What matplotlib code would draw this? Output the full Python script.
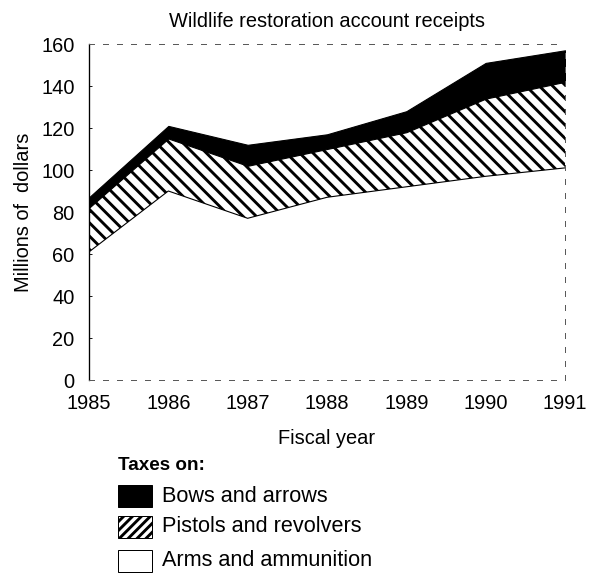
import matplotlib
matplotlib.use("Agg")
import matplotlib.pyplot as plt
from matplotlib.patches import Rectangle
import numpy as np

# Wildlife restoration account receipts, stacked by tax source (millions of dollars)
years = [1985, 1986, 1987, 1988, 1989, 1990, 1991]
arms_ammo = [61, 90, 77, 87, 92, 97, 101]
pistols = [21, 25, 25, 23, 26, 37, 41]
bows = [5, 6, 10, 7, 10, 17, 15]
yticks = [0, 20, 40, 60, 80, 100, 120, 140, 160]
legend_labels = ["Bows and arrows", "Pistols and revolvers", "Arms and ammunition"]

plt.rcParams['font.family'] = ['Liberation Sans', 'DejaVu Sans']
plt.rcParams['hatch.linewidth'] = 2.6

fig = plt.figure(figsize=(589 / 80, 575 / 80), dpi=80)
ax = fig.add_axes([89 / 589, 1 - 380 / 575, (565 - 89) / 589, (380 - 44) / 575])

x = np.array(years)
base = np.array(arms_ammo, dtype=float)
mid = base + np.array(pistols)
top = mid + np.array(bows)

ax.fill_between(x, 0, base, facecolor='white', edgecolor='none')
ax.fill_between(x, base, mid, facecolor='white', edgecolor='black', hatch='\\\\', linewidth=0)
ax.plot(x, base, color='black', lw=1.0)
ax.fill_between(x, mid, top, facecolor='black', edgecolor='black', linewidth=1.0)

fs = 18
ax.set_xlim(1985, 1991)
ax.set_ylim(0, 160)
ax.set_yticks(yticks)
ax.set_yticklabels([str(v) for v in yticks], fontsize=fs)
ax.set_xticks(years)
ax.set_xticklabels([str(y) for y in years], fontsize=fs)
ax.tick_params(axis='y', direction='in', length=3, pad=13)
ax.tick_params(axis='x', direction='in', length=0, pad=13)

for side in ['top', 'bottom', 'right']:
    ax.spines[side].set_linestyle((0, (5, 9)))
    ax.spines[side].set_color('0.35')
    ax.spines[side].set_linewidth(0.9)
ax.spines['left'].set_linewidth(1.2)

ax.set_ylabel("Millions of  dollars", fontsize=fs, labelpad=7)
ax.set_xlabel("Fiscal year", fontsize=fs, labelpad=14)
ax.set_title("Wildlife restoration account receipts", fontsize=fs, pad=15)

# legend drawn by hand in figure pixels
def fx(px):
    return px / 589

def fy(py):
    return 1 - py / 575

fig.text(fx(118), fy(466), "Taxes on:", fontsize=17, fontweight='bold', va='center')
styles = [dict(facecolor='black', edgecolor='black'),
          dict(facecolor='white', edgecolor='black', hatch='///'),
          dict(facecolor='white', edgecolor='black')]
rows = [496, 527, 561]
for lab, st, ry in zip(legend_labels, styles, rows):
    fig.patches.append(Rectangle((fx(118), fy(ry + 11)), fx(34), 22 / 575,
                                 transform=fig.transFigure, linewidth=0.9, **st))
    fig.text(fx(162), fy(ry), lab, fontsize=19.5, va='center')

fig.savefig("out.png", dpi=80, facecolor='white')
